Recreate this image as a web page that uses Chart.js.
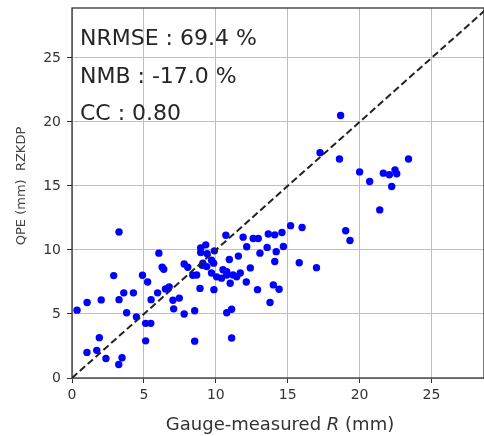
<!DOCTYPE html>
<html>
<head>
<meta charset="utf-8">
<script src="https://cdn.jsdelivr.net/npm/chart.js@4/dist/chart.umd.min.js"></script>
<style>
  html, body { margin: 0; padding: 0; background: #fff; }
  #wrap { width: 484px; height: 436px; }
</style>
</head>
<body>
<div id="wrap"><canvas id="scatterChart" width="484" height="436"></canvas></div>
<script>
// Valores (pluviômetro x estimativa RZKDP)
const gaugeR = [
  0.35, 1.05, 2.03, 2.9, 3.27, 3.27, 3.6, 4.27, 3.8, 4.48,
  4.9, 5.26, 5.5, 5.95, 6.04, 6.27, 6.38, 6.5, 6.76, 7.02,
  7.46, 7.07, 7.8, 8.53, 5.12, 5.48, 5.12, 1.9, 1.04, 1.72,
  2.36, 3.48, 3.25, 8.53, 11.1, 7.8, 8.05, 8.4, 8.9, 9.87,
  10.76, 11.1, 13.77, 8.95, 9.3, 8.95, 9.4, 9.9, 9.7, 9.85,
  9.1, 9.05, 9.37, 8.67, 9.7, 10.06, 10.4, 10.76, 10.5, 10.76,
  11.2, 11.7, 11.45, 11.0, 10.7, 11.9, 12.6, 12.95, 13.65, 14.1,
  14.6, 15.2, 16.0, 10.94, 11.57, 12.15, 13.07, 13.57, 14.2, 14.7,
  14.1, 15.8, 17.0, 12.4, 12.12, 12.9, 14.0, 14.4, 18.68, 17.25,
  18.6, 23.4, 20.0, 20.7, 21.65, 22.07, 22.46, 22.58, 22.23, 21.4,
  19.03, 19.33
];
const qpeRZKDP = [
  5.3, 5.9, 6.1, 8.0, 11.4, 6.12, 6.65, 6.65, 5.1, 4.77,
  8.03, 7.5, 6.12, 6.65, 9.75, 8.65, 8.5, 6.95, 7.12, 6.07,
  6.24, 5.4, 5.0, 5.25, 4.27, 4.27, 2.9, 3.15, 2.0, 2.16,
  1.52, 1.58, 1.05, 2.88, 3.12, 8.9, 8.65, 8.03, 7.0, 6.9,
  5.1, 5.37, 5.9, 10.15, 10.4, 9.8, 9.7, 9.93, 9.2, 8.97,
  8.97, 8.8, 8.7, 8.05, 8.2, 7.9, 7.8, 8.05, 8.45, 8.3,
  8.05, 8.2, 7.9, 7.4, 11.15, 11.0, 10.9, 10.9, 11.25, 11.18,
  11.36, 11.9, 11.75, 9.25, 9.52, 10.25, 9.75, 10.2, 9.87, 10.27,
  9.1, 9.0, 8.62, 8.6, 7.5, 6.9, 7.27, 6.93, 20.5, 17.6,
  17.1, 17.1, 16.1, 15.35, 16.0, 15.87, 16.26, 15.95, 14.96, 13.13,
  11.5, 10.74
];
const xTicks = [0, 5, 10, 15, 20, 25];
const yTicks = [0, 5, 10, 15, 20, 25];
const statsText = ["NRMSE : 69.4 %", "NMB : -17.0 %", "CC : 0.80"];
const xMax = 28.65;
const yMax = 28.9;

const points = gaugeR.map((v, i) => ({ x: v, y: qpeRZKDP[i] }));

// Plugin para moldura, estatísticas e títulos dos eixos
const extras = {
  id: "extras",
  afterDraw(chart) {
    const c = chart.ctx;
    const a = chart.chartArea;
    c.save();
    c.strokeStyle = "#222";
    c.lineWidth = 1.2;
    c.strokeRect(a.left, a.top, a.right - a.left, a.bottom - a.top);

    c.fillStyle = "#262626";
    c.font = "22px 'DejaVu Sans'";
    c.textBaseline = "alphabetic";
    c.textAlign = "left";
    const baselines = [44.5, 82.5, 119.5];
    statsText.forEach((t, i) => c.fillText(t, 80, baselines[i]));

    // título do eixo x com R em itálico
    const parts = [
      ["Gauge-measured ", "18px 'DejaVu Sans'"],
      ["R", "italic 18px 'DejaVu Sans'"],
      [" (mm)", "18px 'DejaVu Sans'"]
    ];
    let total = 0;
    parts.forEach(p => { c.font = p[1]; total += c.measureText(p[0]).width; });
    let x = 280 - total / 2;
    c.fillStyle = "#333";
    parts.forEach(p => { c.font = p[1]; c.fillText(p[0], x, 430); x += c.measureText(p[0]).width; });

    // título do eixo y
    c.translate(25, 186);
    c.rotate(-Math.PI / 2);
    c.textAlign = "center";
    c.font = "13px 'DejaVu Sans'";
    c.fillStyle = "#444";
    c.fillText("QPE (mm)  RZKDP", 0, 0);
    c.restore();
  }
};

const ctx = document.getElementById("scatterChart").getContext("2d");
const scatterChart = new Chart(ctx, {
  type: "scatter",
  data: {
    datasets: [
      {
        type: "line",
        data: [{ x: 0, y: 0 }, { x: 30, y: 30 }],
        borderColor: "#222",
        borderWidth: 2,
        borderDash: [7, 3.5],
        pointRadius: 0,
        fill: false
      },
      {
        data: points,
        backgroundColor: "#0000ff",
        borderWidth: 0,
        pointRadius: 3.7,
        pointHoverRadius: 3.7
      }
    ]
  },
  options: {
    responsive: false,
    animation: false,
    layout: { autoPadding: false, padding: { top: 8, right: 0, left: 0, bottom: 0 } },
    plugins: {
      legend: { display: false },
      tooltip: { enabled: false }
    },
    scales: {
      x: {
        type: "linear",
        min: 0,
        max: xMax,
        afterBuildTicks: s => { s.ticks = xTicks.map(v => ({ value: v })); },
        afterFit: s => { s.height = 58; s.paddingLeft = 0; s.paddingRight = 0; },
        grid: { color: "#bdbdbd", lineWidth: 1, tickColor: "#333", tickLength: 5 },
        border: { display: false },
        ticks: { color: "#333", font: { family: "'DejaVu Sans'", size: 14 }, padding: 4, maxRotation: 0 }
      },
      y: {
        type: "linear",
        min: 0,
        max: yMax,
        afterBuildTicks: s => { s.ticks = yTicks.map(v => ({ value: v })); },
        afterFit: s => { s.width = 72; s.paddingTop = 0; s.paddingBottom = 0; },
        grid: { color: "#bdbdbd", lineWidth: 1, tickColor: "#333", tickLength: 5 },
        border: { display: false },
        ticks: { color: "#333", font: { family: "'DejaVu Sans'", size: 14 }, padding: 6 }
      }
    }
  },
  plugins: [extras]
});
</script>
</body>
</html>
